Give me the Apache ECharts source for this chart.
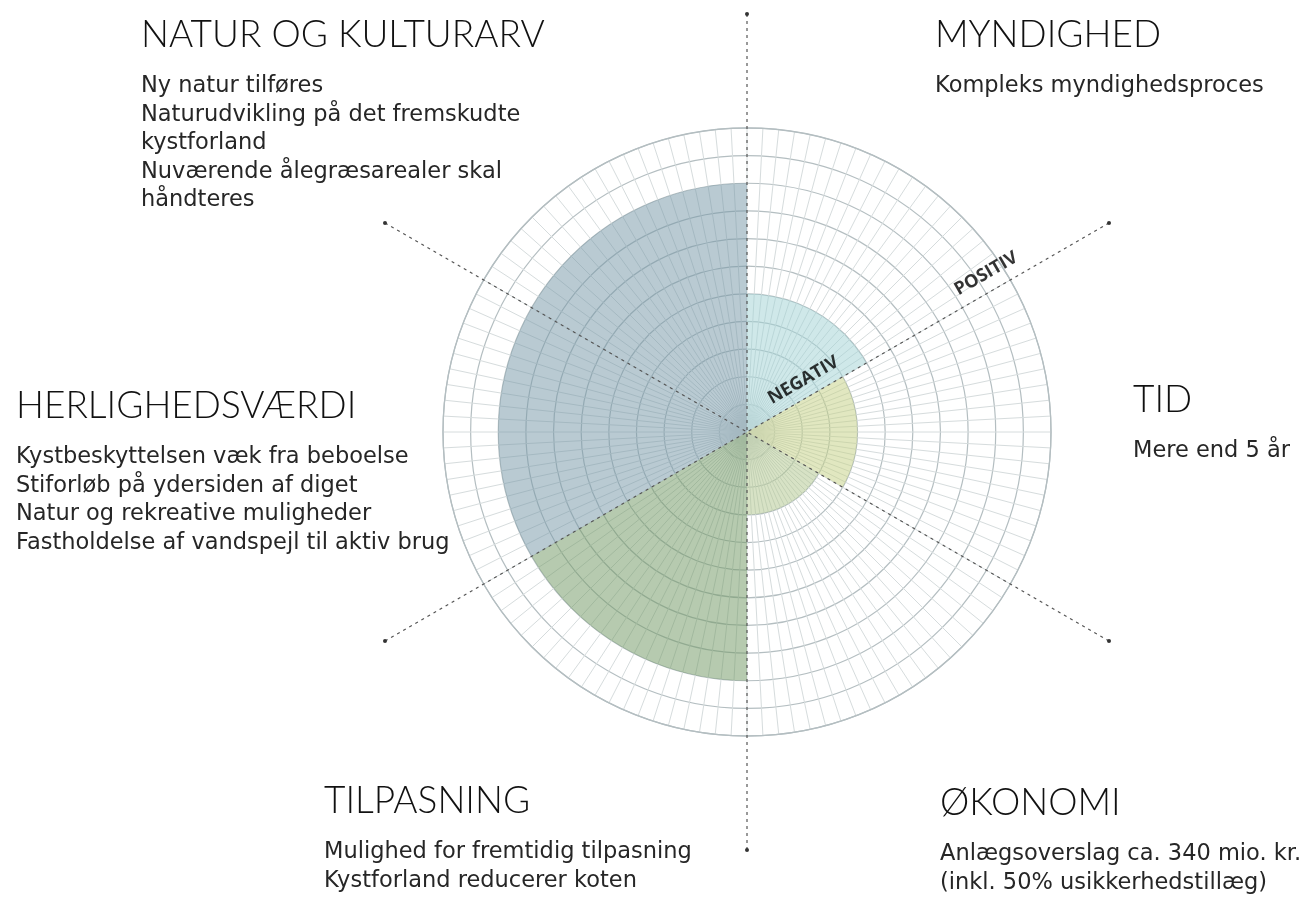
<!DOCTYPE html>
<html>
<head>
<meta charset="utf-8">
<script src="https://cdn.jsdelivr.net/npm/echarts@6/dist/echarts.min.js"></script>
<style>
  html, body { margin: 0; padding: 0; background: #fff; }
  #rose { width: 1312px; height: 899px; }
</style>
</head>
<body>
<div id="rose"></div>
<script>
// sectors clockwise from the top, score in rings (0-11)
var categories = ['MYNDIGHED', 'TID', 'ØKONOMI', 'TILPASNING', 'HERLIGHEDSVÆRDI', 'NATUR OG KULTURARV'];
var scores = [5, 4, 3, 9, 9, 9];
var colors = ['rgba(160,210,212,0.5)', 'rgba(196,208,130,0.5)', 'rgba(175,198,140,0.5)',
              'rgba(110,150,95,0.5)', 'rgba(115,150,165,0.5)', 'rgba(115,150,165,0.5)'];

var notes = [
    ['Kompleks myndighedsproces'],
    ['Mere end 5 år'],
    ['Anlægsoverslag ca. 340 mio. kr.', '(inkl. 50% usikkerhedstillæg)'],
    ['Mulighed for fremtidig tilpasning', 'Kystforland reducerer koten'],
    ['Kystbeskyttelsen væk fra beboelse', 'Stiforløb på ydersiden af diget', 'Natur og rekreative muligheder', 'Fastholdelse af vandspejl til aktiv brug'],
    ['Ny natur tilføres', 'Naturudvikling på det fremskudte', 'kystforland', 'Nuværende ålegræsarealer skal', 'håndteres']
];
// where each text block sits (left, top)
var notePos = [[935, 15], [1133, 380], [940, 783], [324, 781], [16, 386], [141, 15]];

// dashed divider lines: angle pairs (0 = top, clockwise)
var dividers = [[0, 180], [60, 240], [120, 300]];

var titles = [];
for (var i = 0; i < categories.length; i++) {
    titles.push({
        left: notePos[i][0],
        top: notePos[i][1],
        text: categories[i],
        subtext: notes[i].join('\n'),
        itemGap: 17,
        padding: 0,
        textStyle: { fontFamily: 'Lato', fontSize: 37, fontWeight: 300, color: '#111', lineHeight: 40 },
        subtextStyle: { fontFamily: 'DejaVu Sans', fontSize: 22.5, color: '#262626', lineHeight: 28.5 }
    });
}

var series = [];
series.push({
    type: 'bar',
    coordinateSystem: 'polar',
    polarIndex: 0,
    barCategoryGap: '0%',
    data: scores.map(function (v, k) {
        return { value: v, itemStyle: { color: colors[k] } };
    }),
    silent: true
});

for (var j = 0; j < dividers.length; j++) {
    series.push({
        type: 'line',
        coordinateSystem: 'polar',
        polarIndex: 2,
        clip: false,
        symbol: 'circle',
        symbolSize: 4,
        itemStyle: { color: '#333' },
        lineStyle: { color: '#555', width: 1.2, type: [3, 4] },
        data: [[1, dividers[j][0]], [1, dividers[j][1]]],
        silent: true,
        z: 5
    });
}

series.push({
    type: 'scatter',
    coordinateSystem: 'polar',
    polarIndex: 2,
    symbolSize: 0,
    data: [
        { value: [0.183, 47.5], name: 'NEGATIV' },
        { value: [0.686, 56.5], name: 'POSITIV' }
    ],
    label: {
        show: true,
        position: 'inside',
        formatter: '{b}',
        rotate: 30,
        fontFamily: 'Open Sans',
        fontWeight: 'bold',
        fontSize: 18,
        color: '#000'
    },
    silent: true,
    z: 6
});

var myChart = echarts.init(document.getElementById('rose'));

option = {
    backgroundColor: '#fff',
    animation: false,
    title: titles,
    polar: [
        { center: [747, 432], radius: 304 },
        { center: [747, 432], radius: 304 },
        { center: [747, 432], radius: 418 }
    ],
    angleAxis: [
        {
            polarIndex: 0, type: 'category', data: categories, startAngle: 90,
            axisLine: { show: false }, axisTick: { show: false }, axisLabel: { show: false }, splitLine: { show: false }
        },
        {
            polarIndex: 1, type: 'value', min: 0, max: 360, interval: 3, startAngle: 90,
            axisLine: { show: true, lineStyle: { color: '#b4bec1', width: 1.3 } },
            axisTick: { show: false }, axisLabel: { show: false },
            splitLine: { show: true, lineStyle: { color: '#d6dcdd', width: 1 } }
        },
        {
            polarIndex: 2, type: 'value', min: 0, max: 360, startAngle: 90,
            axisLine: { show: false }, axisTick: { show: false }, axisLabel: { show: false }, splitLine: { show: false }
        }
    ],
    radiusAxis: [
        {
            polarIndex: 0, type: 'value', min: 0, max: 11,
            axisLine: { show: false }, axisTick: { show: false }, axisLabel: { show: false }, splitLine: { show: false }
        },
        {
            polarIndex: 1, type: 'value', min: 0, max: 11, interval: 1,
            axisLine: { show: false }, axisTick: { show: false }, axisLabel: { show: false },
            splitLine: { show: true, lineStyle: { color: '#b4bec1', width: 1.2 } }
        },
        {
            polarIndex: 2, type: 'value', min: 0, max: 1,
            axisLine: { show: false }, axisTick: { show: false }, axisLabel: { show: false }, splitLine: { show: false }
        }
    ],
    series: series
};

myChart.setOption(option);
</script>
</body>
</html>
